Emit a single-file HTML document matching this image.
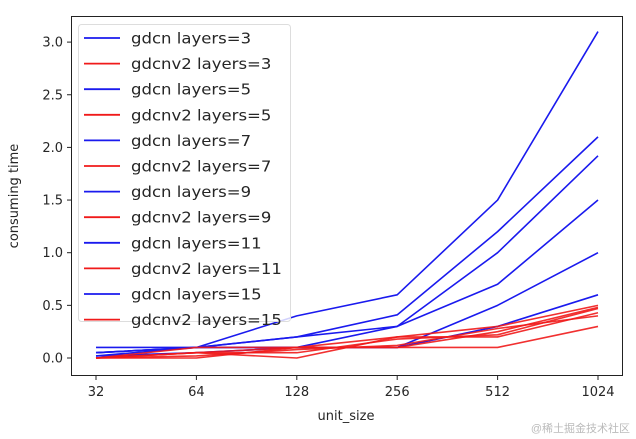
<!DOCTYPE html>
<html><head><style>body{margin:0;background:#fff}svg{display:block}text{font-family:"DejaVu Sans","Liberation Sans",sans-serif;fill:#262626}</style></head>
<body>
<svg width="636" height="439" viewBox="0 0 636 439">
<g id="lines" fill="none" stroke-width="1.6" stroke-linejoin="round"></g>
<rect x="71.5" y="16.5" width="551" height="359" fill="none" stroke="#222" stroke-width="1"/>
<g id="ticks" stroke="#222"></g>
<g id="tl" font-size="13"></g>
<text x="346" y="420" font-size="13" text-anchor="middle">unit_size</text>
<text x="18" y="196" font-size="13" text-anchor="middle" transform="rotate(-90 18 196)">consuming time</text>
<rect x="78.5" y="24.5" width="212" height="297" rx="3" fill="#fff" fill-opacity="0.8" stroke="#ddd"/>
<g id="leg" font-size="15"></g>
<text x="630" y="432" font-size="11" text-anchor="end" style="fill:#bbb;font-family:'Liberation Sans','Noto Sans CJK SC',sans-serif">@稀土掘金技术社区</text>
</svg>
<script>
var X=[96,196.4,296.8,397.2,497.6,598];function Y(v){return 358-v*105.3}
var blue=[[0.1,0.1,0.4,0.6,1.5,3.1],[0.05,0.1,0.2,0.41,1.2,2.1],[0.05,0.1,0.2,0.3,1.0,1.92],[0.05,0.1,0.1,0.3,0.7,1.5],[0.02,0.1,0.1,0.1,0.5,1.0],[0.02,0.05,0.1,0.1,0.3,0.6]];
var red=[[0,0.05,0.1,0.2,0.3,0.5],[0,0,0.1,0.1,0.25,0.48],[0,0.05,0,0.2,0.2,0.43],[0,0.1,0.1,0.1,0.1,0.3],[0,0.05,0.05,0.18,0.22,0.47],[0,0.02,0.08,0.12,0.28,0.4]];
var s='';
blue.forEach(function(d){s+='<polyline stroke="#1a1aee" points="'+d.map(function(v,i){return X[i]+','+Y(v)}).join(' ')+'"/>'});
red.forEach(function(d){s+='<polyline stroke="#f01a1a" stroke-opacity="0.9" points="'+d.map(function(v,i){return X[i]+','+Y(v)}).join(' ')+'"/>'});
document.getElementById('lines').innerHTML=s;
var t='',l='',xl=['32','64','128','256','512','1024'];
X.forEach(function(x,i){t+='<line x1="'+x+'" x2="'+x+'" y1="376" y2="380"/>';l+='<text x="'+x+'" y="396" text-anchor="middle">'+xl[i]+'</text>'});
for(var k=0;k<=6;k++){var y=Y(k*0.5);t+='<line x1="67" x2="71" y1="'+y+'" y2="'+y+'"/>';l+='<text x="63" y="'+(y+4.5)+'" text-anchor="end">'+(k*0.5).toFixed(1)+'</text>'}
document.getElementById('ticks').innerHTML=t;document.getElementById('tl').innerHTML=l;
var names=['3','3','5','5','7','7','9','9','11','11','15','15'],g='';
names.forEach(function(n,i){var y=38+i*25.6,c=i%2?'#f01a1a':'#1a1aee';var txt=(i%2?'gdcnv2':'gdcn')+' layers='+n;g+='<line x1="84" x2="120" y1="'+y+'" y2="'+y+'" stroke="'+c+'" stroke-width="1.8"/><text class="lt" x="131" y="'+(y+5.5)+'">'+txt+'</text>'});
document.getElementById('leg').innerHTML=g;
var m=document.createElementNS('http://www.w3.org/2000/svg','text');m.setAttribute('font-size','13');document.querySelector('svg').appendChild(m);
document.querySelectorAll('.lt').forEach(function(e){m.textContent=e.textContent;var w=m.getComputedTextLength();if(w>0){e.setAttribute('textLength',(w*1.27).toFixed(1));e.setAttribute('lengthAdjust','spacingAndGlyphs');}});
m.remove();
</script>
</body></html>
